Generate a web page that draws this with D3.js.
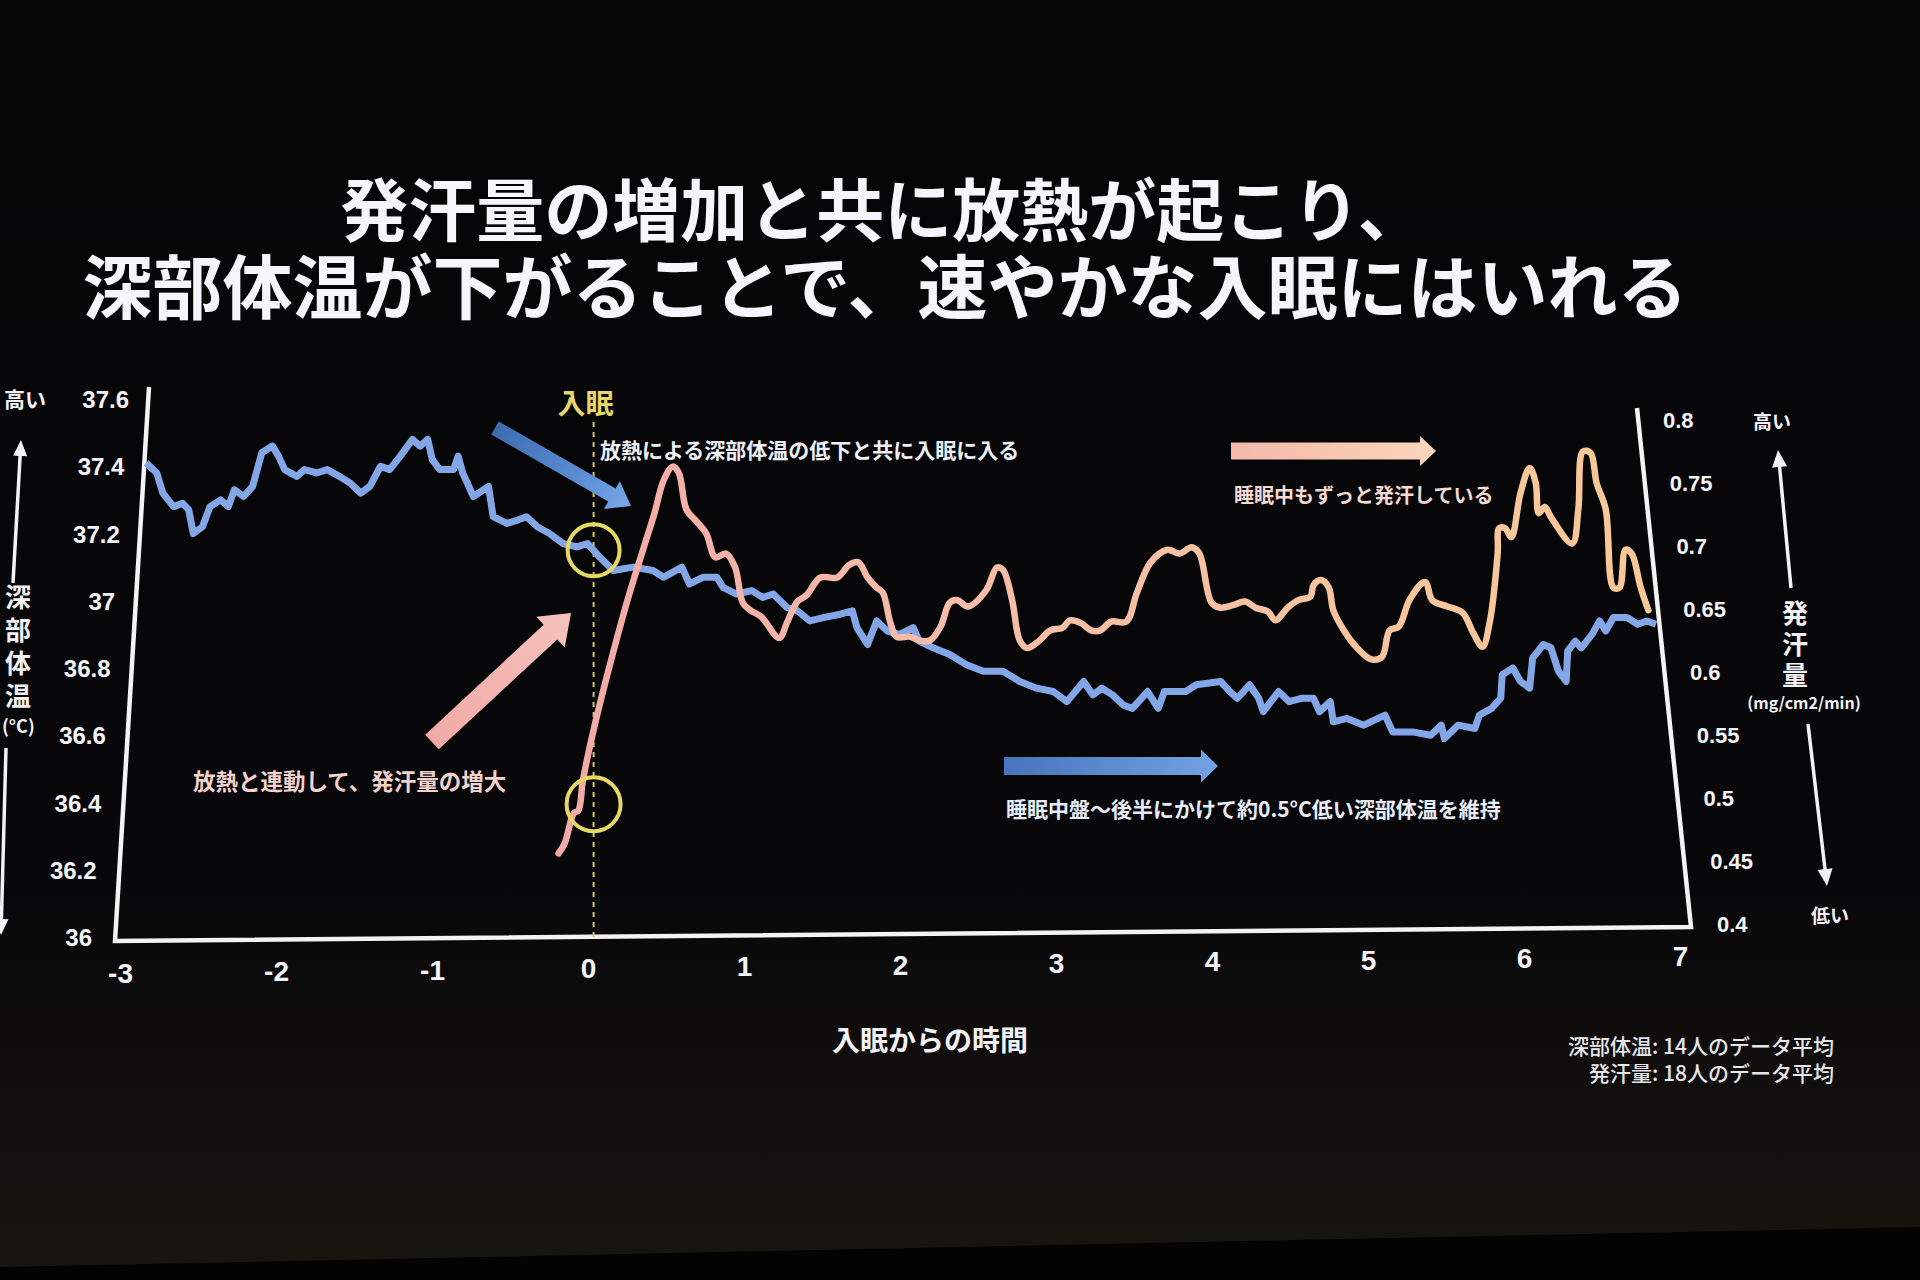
<!DOCTYPE html>
<html>
<head>
<meta charset="utf-8">
<script src="https://cdn.jsdelivr.net/npm/d3@7"></script>
<style>
html, body { margin: 0; padding: 0; background: #050506; }
svg { display: block; }
</style>
</head>
<body>
<svg id="chart" width="1920" height="1280"></svg>
<script>
// hours from sleep onset, core body temperature (°C), 14-person average
const coreTemp = [
	[-2.94, 37.41], [-2.87, 37.38], [-2.83, 37.32], [-2.76, 37.28], [-2.70, 37.29], [-2.66, 37.27],
	[-2.63, 37.20], [-2.57, 37.22], [-2.52, 37.28], [-2.45, 37.30], [-2.40, 37.28], [-2.36, 37.33],
	[-2.30, 37.31], [-2.24, 37.34], [-2.18, 37.44], [-2.11, 37.46], [-2.07, 37.43], [-2.03, 37.39],
	[-1.95, 37.37], [-1.90, 37.39], [-1.82, 37.38], [-1.75, 37.39], [-1.67, 37.37], [-1.60, 37.35],
	[-1.53, 37.32], [-1.47, 37.34], [-1.40, 37.40], [-1.34, 37.39], [-1.27, 37.43], [-1.19, 37.48],
	[-1.14, 37.46], [-1.09, 37.48], [-1.06, 37.42], [-1.01, 37.39], [-0.92, 37.39], [-0.89, 37.43],
	[-0.86, 37.38], [-0.79, 37.31], [-0.69, 37.34], [-0.66, 37.25], [-0.57, 37.23], [-0.50, 37.24],
	[-0.44, 37.25], [-0.37, 37.22], [-0.29, 37.20], [-0.20, 37.17], [-0.11, 37.16], [-0.04, 37.17],
	[0.04, 37.13], [0.13, 37.09], [0.26, 37.10], [0.39, 37.09], [0.46, 37.07], [0.58, 37.10],
	[0.63, 37.05], [0.72, 37.07], [0.81, 37.07], [0.85, 37.04], [0.94, 37.02], [1.04, 37.03],
	[1.11, 37.01], [1.18, 37.02], [1.27, 36.98], [1.34, 36.97], [1.42, 36.94], [1.51, 36.95],
	[1.62, 36.96], [1.70, 36.97], [1.73, 36.92], [1.80, 36.87], [1.86, 36.94], [1.93, 36.91],
	[2.01, 36.90], [2.10, 36.92], [2.14, 36.88], [2.23, 36.86], [2.34, 36.84], [2.45, 36.81],
	[2.56, 36.79], [2.69, 36.79], [2.80, 36.76], [2.91, 36.74], [3.02, 36.73], [3.11, 36.70],
	[3.22, 36.76], [3.28, 36.72], [3.34, 36.74], [3.41, 36.72], [3.48, 36.69], [3.54, 36.68],
	[3.64, 36.73], [3.71, 36.68], [3.75, 36.73], [3.89, 36.73], [3.96, 36.75], [4.12, 36.76],
	[4.18, 36.73], [4.23, 36.71], [4.31, 36.75], [4.37, 36.71], [4.40, 36.67], [4.50, 36.73],
	[4.57, 36.70], [4.65, 36.71], [4.73, 36.71], [4.77, 36.67], [4.84, 36.70], [4.86, 36.64],
	[4.95, 36.65], [5.06, 36.63], [5.20, 36.66], [5.25, 36.61], [5.38, 36.61], [5.50, 36.60],
	[5.57, 36.63], [5.59, 36.59], [5.68, 36.63], [5.79, 36.62], [5.82, 36.66], [5.90, 36.68],
	[5.96, 36.71], [5.97, 36.78], [6.04, 36.80], [6.09, 36.76], [6.15, 36.74], [6.17, 36.83],
	[6.24, 36.87], [6.29, 36.86], [6.34, 36.79], [6.39, 36.76], [6.40, 36.85], [6.45, 36.88],
	[6.49, 36.86], [6.56, 36.90], [6.61, 36.94], [6.65, 36.91], [6.70, 36.95], [6.79, 36.95],
	[6.86, 36.93], [6.92, 36.94], [6.98, 36.93]
];

// hours from sleep onset, sweat rate (mg/cm2/min), 18-person average
const sweatRate = [
	[-0.23, 0.456], [-0.19, 0.464], [-0.13, 0.488], [-0.10, 0.490], [-0.07, 0.514], [0.00, 0.554],
	[0.11, 0.607], [0.23, 0.660], [0.33, 0.699], [0.40, 0.726], [0.46, 0.752], [0.52, 0.763],
	[0.56, 0.758], [0.61, 0.729], [0.68, 0.719], [0.74, 0.710], [0.80, 0.691], [0.87, 0.694],
	[0.93, 0.683], [0.98, 0.655], [1.03, 0.649], [1.10, 0.644], [1.22, 0.627], [1.27, 0.639],
	[1.34, 0.656], [1.40, 0.661], [1.49, 0.675], [1.60, 0.675], [1.68, 0.685], [1.74, 0.687],
	[1.80, 0.675], [1.86, 0.667], [1.90, 0.663], [1.95, 0.639], [1.99, 0.628], [2.08, 0.628],
	[2.14, 0.625], [2.21, 0.625], [2.28, 0.636], [2.34, 0.655], [2.39, 0.657], [2.46, 0.652],
	[2.58, 0.665], [2.65, 0.683], [2.69, 0.681], [2.75, 0.657], [2.80, 0.625], [2.85, 0.619],
	[2.93, 0.625], [3.00, 0.633], [3.08, 0.635], [3.13, 0.641], [3.20, 0.639], [3.27, 0.633],
	[3.33, 0.633], [3.40, 0.640], [3.50, 0.640], [3.57, 0.663], [3.66, 0.687], [3.77, 0.697],
	[3.85, 0.694], [3.93, 0.699], [3.98, 0.694], [4.06, 0.655], [4.12, 0.651], [4.20, 0.653],
	[4.28, 0.656], [4.35, 0.651], [4.43, 0.648], [4.48, 0.641], [4.56, 0.651], [4.63, 0.657],
	[4.71, 0.660], [4.73, 0.669], [4.78, 0.673], [4.83, 0.667], [4.86, 0.649], [4.93, 0.633],
	[5.01, 0.620], [5.11, 0.610], [5.18, 0.612], [5.23, 0.633], [5.29, 0.636], [5.36, 0.657],
	[5.45, 0.671], [5.47, 0.671], [5.51, 0.657], [5.61, 0.652], [5.71, 0.647], [5.78, 0.631],
	[5.84, 0.620], [5.89, 0.641], [5.94, 0.694], [5.95, 0.714], [5.99, 0.714], [6.03, 0.707],
	[6.09, 0.742], [6.15, 0.762], [6.19, 0.750], [6.21, 0.726], [6.25, 0.731], [6.29, 0.723],
	[6.43, 0.702], [6.47, 0.729], [6.50, 0.775], [6.55, 0.774], [6.59, 0.750], [6.65, 0.729],
	[6.70, 0.667], [6.74, 0.667], [6.78, 0.697], [6.82, 0.694], [6.88, 0.667], [6.93, 0.649]
];

const hourTicks = [-3, -2, -1, 0, 1, 2, 3, 4, 5, 6, 7];
const tempTicks = [36, 36.2, 36.4, 36.6, 36.8, 37, 37.2, 37.4, 37.6];
const sweatTicks = [0.4, 0.45, 0.5, 0.55, 0.6, 0.65, 0.7, 0.75, 0.8];

const titleLines = ["発汗量の増加と共に放熱が起こり、", "深部体温が下がることで、速やかな入眠にはいれる"];
const notes = ["深部体温: 14人のデータ平均", "発汗量: 18人のデータ平均"];

const FONT = "'Noto Sans CJK JP', 'Noto Sans', sans-serif";
const NUM_FONT = "'Liberation Sans', Arial, sans-serif";

let svg = d3.select("#chart");

let x = d3.scaleLinear().domain([-3, 7]).range([137, 1659]);
let yL = d3.scaleLinear().domain([36, 37.6]).range([937, 399]);
let yR = d3.scaleLinear().domain([0.4, 0.8]).range([924, 420]);

let defs = svg.append("defs");

function gradient(id, p0, p1, stops) {
	let gr = defs.append("linearGradient")
		.attr("id", id)
		.attr("gradientUnits", "userSpaceOnUse")
		.attr("x1", p0[0]).attr("y1", p0[1])
		.attr("x2", p1[0]).attr("y2", p1[1]);
	stops.forEach(function(s) {
		gr.append("stop").attr("offset", s[0]).attr("stop-color", s[1]);
	});
}

// block arrow from tail p0 to tip p1
function blockArrow(p0, p1, shaft, headW, headL, fill) {
	let dx = p1[0] - p0[0], dy = p1[1] - p0[1];
	let len = Math.sqrt(dx * dx + dy * dy);
	let ux = dx / len, uy = dy / len, nx = -uy, ny = ux;
	let bx = p1[0] - ux * headL, by = p1[1] - uy * headL;
	let pts = [
		[p0[0] + nx * shaft / 2, p0[1] + ny * shaft / 2],
		[bx + nx * shaft / 2, by + ny * shaft / 2],
		[bx + nx * headW / 2, by + ny * headW / 2],
		p1,
		[bx - nx * headW / 2, by - ny * headW / 2],
		[bx - nx * shaft / 2, by - ny * shaft / 2],
		[p0[0] - nx * shaft / 2, p0[1] - ny * shaft / 2]
	];
	svg.append("polygon")
		.attr("points", pts.map(function(p) { return p.join(","); }).join(" "))
		.attr("fill", fill);
}

function label(txt, px, py, size, color, anchor, weight) {
	return svg.append("text")
		.attr("x", px).attr("y", py)
		.attr("font-family", FONT)
		.attr("font-size", size)
		.attr("font-weight", weight || 700)
		.attr("fill", color)
		.attr("text-anchor", anchor || "start")
		.text(txt);
}

// stacked (vertical) axis title
function verticalLabel(txt, px, top, size, gap) {
	return label(txt, px, top, size, "#f2f2f6")
		.attr("writing-mode", "vertical-rl")
		.attr("letter-spacing", gap);
}

// screen background, a little lighter towards its lower edge
gradient("gScreen", [0, 0], [0, 1260], [[0, "#050506"], [0.7, "#08080a"], [1, "#17150f"]]);
svg.append("rect").attr("width", 1920).attr("height", 1280).attr("fill", "url(#gScreen)");
svg.append("polygon").attr("points", "0,1267 1920,1227 1920,1280 0,1280").attr("fill", "#030303");

// title
label(titleLines[0], 883, 236, 68, "#f6f6fa", "middle");
label(titleLines[1], 885, 314, 70, "#f6f6fa", "middle");

// frame (photographed screen is slightly keystoned)
svg.append("path")
	.attr("d", "M149,387 L115,941 L1691,927 L1637,408")
	.attr("fill", "none")
	.attr("stroke", "#f4f2f2")
	.attr("stroke-width", 4.5)
	.attr("stroke-linejoin", "miter");

// axes
let leftAxis = svg.append("g")
	.attr("transform", "translate(137,0)")
	.call(d3.axisLeft(yL).tickValues(tempTicks).tickSize(0).tickFormat(function(d) { return String(d); }));
leftAxis.select(".domain").remove();
leftAxis.selectAll("text")
	.attr("x", function(d) { return 129 - (yL(d) - 399) * 37 / 538 - 137; })
	.attr("dy", "0.36em")
	.attr("fill", "#f4f4f8")
	.attr("font-family", NUM_FONT)
	.attr("font-weight", 700)
	.attr("font-size", 24);

let rightAxis = svg.append("g")
	.attr("transform", "translate(1659,0)")
	.call(d3.axisRight(yR).tickValues(sweatTicks).tickSize(0).tickFormat(function(d) { return String(d); }));
rightAxis.select(".domain").remove();
rightAxis.selectAll("text")
	.attr("x", function(d) { return 1663 + (yR(d) - 420) * 54 / 504 - 1659; })
	.attr("dy", "0.36em")
	.attr("fill", "#f4f4f8")
	.attr("font-family", NUM_FONT)
	.attr("font-weight", 700)
	.attr("font-size", 22);

let bottomAxis = svg.append("g")
	.attr("transform", "translate(0,935)")
	.call(d3.axisBottom(x).tickValues(hourTicks).tickSize(0).tickFormat(function(d) { return String(d); }));
bottomAxis.select(".domain").remove();
bottomAxis.selectAll("text")
	.attr("x", function(d) { return -20.4 + 0.025 * x(d); })
	.attr("y", function(d) { return 973 - (x(d) - 120) * 17 / 1560 - 935; })
	.attr("dy", "0.36em")
	.attr("fill", "#f4f4f8")
	.attr("font-family", NUM_FONT)
	.attr("font-weight", 700)
	.attr("font-size", 28);

label("入眠からの時間", 930, 1051, 28, "#f2f2f6", "middle");
label(notes[0], 1834, 1054, 21, "#e6e6ea", "end", 500);
label(notes[1], 1834, 1081, 21, "#e6e6ea", "end", 500);

// left axis title
label("高い", 4, 407, 21, "#f2f2f6");
blockArrow([13, 583], [21, 440], 3.5, 14, 16, "#f2f2f6");
verticalLabel("深部体温", 18, 584, 26, 7);
label("(°C)", 2, 733, 18, "#f2f2f6", "start");
blockArrow([6, 748], [1, 935], 3.5, 14, 16, "#f2f2f6");

// right axis title
label("高い", 1772, 429, 19, "#f2f2f6", "middle");
blockArrow([1791, 588], [1778, 450], 3.5, 15, 17, "#f2f2f6");
verticalLabel("発汗量", 1795, 600, 26, 5);
label("(mg/cm2/min)", 1804, 709, 16, "#f2f2f6", "middle");
blockArrow([1808, 724], [1827, 886], 3.5, 15, 17, "#f2f2f6");
label("低い", 1830, 923, 19, "#f2f2f6", "middle");

// sleep onset marker
svg.append("line")
	.attr("x1", x(0)).attr("x2", x(0))
	.attr("y1", 422).attr("y2", 937)
	.attr("stroke", "#d8c75a")
	.attr("stroke-width", 2)
	.attr("stroke-dasharray", "5,5");
label("入眠", x(0) - 8, 414, 28, "#e9d66b", "middle");

// annotation arrows
gradient("gBlueDiag", [495, 428], [631, 506], [[0, "#3d6bb0"], [0.7, "#5f92d8"], [1, "#79a8e6"]]);
blockArrow([495, 428], [631, 506], 15, 32, 22, "url(#gBlueDiag)");
gradient("gPinkDiag", [432, 742], [571, 613], [[0, "#f1a9a6"], [1, "#f5c2bc"]]);
blockArrow([432, 742], [571, 613], 20, 42, 28, "url(#gPinkDiag)");
gradient("gPeach", [1231, 451], [1436, 451], [[0, "#f3b9aa"], [1, "#fad5bd"]]);
blockArrow([1231, 451], [1436, 451], 17, 30, 16, "url(#gPeach)");
gradient("gBlueH", [1004, 766], [1218, 766], [[0, "#4674bd"], [1, "#73a3e2"]]);
blockArrow([1004, 766], [1218, 766], 18, 33, 17, "url(#gBlueH)");

label("放熱による深部体温の低下と共に入眠に入る", 600, 458, 21, "#eef0f8");
label("放熱と連動して、発汗量の増大", 193, 790, 22.5, "#f2d2ca");
label("睡眠中もずっと発汗している", 1234, 503, 20, "#f4d9d0");
label("睡眠中盤〜後半にかけて約0.5°C低い深部体温を維持", 1006, 817, 21, "#e8edfa");

// data lines
let tempLine = d3.line()
	.x(function(d) { return x(d[0]); })
	.y(function(d) { return yL(d[1]); });
let sweatLine = d3.line()
	.x(function(d) { return x(d[0]); })
	.y(function(d) { return yR(d[1]); })
	.curve(d3.curveCatmullRom.alpha(0.5));

svg.append("path")
	.datum(coreTemp)
	.attr("d", tempLine)
	.attr("fill", "none")
	.attr("stroke", "#82a6e6")
	.attr("stroke-width", 7)
	.attr("stroke-linejoin", "round");

gradient("gSweat", [x(-0.3), 0], [x(7), 0], [[0, "#f2a9a7"], [0.35, "#f5bcaa"], [1, "#f8c996"]]);
svg.append("path")
	.datum(sweatRate)
	.attr("d", sweatLine)
	.attr("fill", "none")
	.attr("stroke", "url(#gSweat)")
	.attr("stroke-width", 6.5)
	.attr("stroke-linejoin", "round")
	.attr("stroke-linecap", "round");

// highlight circles at sleep onset
svg.append("circle")
	.attr("cx", x(0)).attr("cy", yL(37.15)).attr("r", 26)
	.attr("fill", "none").attr("stroke", "#e7d763").attr("stroke-width", 4);
svg.append("circle")
	.attr("cx", x(0)).attr("cy", yR(0.495)).attr("r", 27)
	.attr("fill", "none").attr("stroke", "#e7d763").attr("stroke-width", 4);
</script>
</body>
</html>
